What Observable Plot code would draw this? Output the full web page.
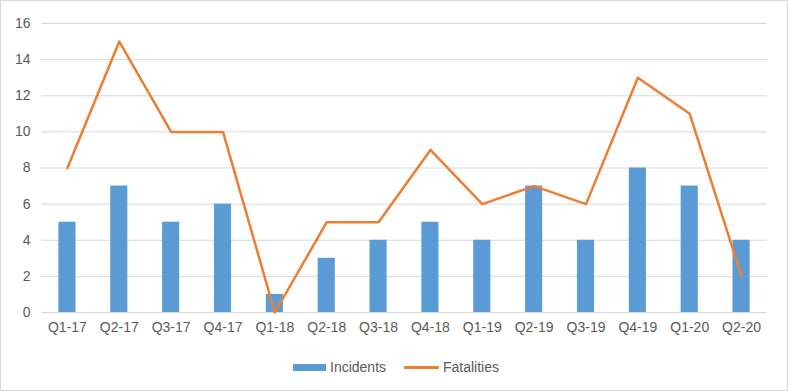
<!DOCTYPE html>
<html>
<head>
<meta charset="utf-8">
<script src="https://cdn.jsdelivr.net/npm/d3@7"></script>
<script src="https://cdn.jsdelivr.net/npm/@observablehq/plot@0.6"></script>
<style>
  html, body { margin: 0; padding: 0; background: #fff; }
  #wrap { position: relative; width: 788px; height: 391px; font-family: "Liberation Sans", Arial, sans-serif; }
  #wrap svg { outline: 1px solid #d9d9d9; outline-offset: -1px; display: block; }
  #legend { position: absolute; top: 358px; left: 0; width: 788px; height: 18px; font-size: 14px; color: #595959; }
  .lg { position: absolute; top: 0; line-height: 18px; }
</style>
</head>
<body>
<div id="wrap"></div>
<script>
const quarters = ["Q1-17","Q2-17","Q3-17","Q4-17","Q1-18","Q2-18","Q3-18","Q4-18","Q1-19","Q2-19","Q3-19","Q4-19","Q1-20","Q2-20"];
const incidents = [5,7,5,6,1,3,4,5,4,7,4,8,7,4];
const fatalities = [8,15,10,10,0,5,5,9,6,7,6,13,11,2];
const yTicks = [0,2,4,6,8,10,12,14,16];

const data = quarters.map((q, i) => ({q, incidents: incidents[i], fatalities: fatalities[i]}));

const chart = Plot.plot({
  width: 788,
  height: 391,
  marginLeft: 41,
  marginRight: 21,
  marginTop: 23,
  marginBottom: 79,
  style: {fontFamily: "Liberation Sans, Arial, sans-serif", fontSize: "14px", color: "#595959", background: "#fff"},
  x: {domain: quarters, paddingInner: 0.67, paddingOuter: 0.335, round: false, label: null},
  y: {domain: [0, 16], ticks: yTicks, label: null},
  marks: [
    Plot.gridY(yTicks, {stroke: "#d9d9d9", strokeOpacity: 1, strokeWidth: 1}),
    Plot.barY(data, {x: "q", y: "incidents", fill: "#5B9BD5"}),
    Plot.line(data, {x: "q", y: "fatalities", stroke: "#ED7D31", strokeWidth: 2.5, strokeLinejoin: "round", strokeLinecap: "round"}),
    Plot.axisY(yTicks, {tickSize: 0, tickPadding: 11, fill: "#595959", fontSize: 14, label: null}),
    Plot.axisX({tickSize: 0, tickPadding: 10, fill: "#595959", fontSize: 14, label: null})
  ]
});

const wrap = document.getElementById("wrap");
wrap.appendChild(chart);

const legend = document.createElement("div");
legend.id = "legend";
legend.innerHTML =
  '<span class="lg" style="left:293px;top:6px;width:33px;height:7px;background:#5B9BD5;"></span>' +
  '<span class="lg" style="left:330px;">Incidents</span>' +
  '<span class="lg" style="left:404px;top:8px;width:35px;height:3px;background:#ED7D31;border-radius:1px;"></span>' +
  '<span class="lg" style="left:443px;">Fatalities</span>';
wrap.appendChild(legend);
</script>
</body>
</html>
